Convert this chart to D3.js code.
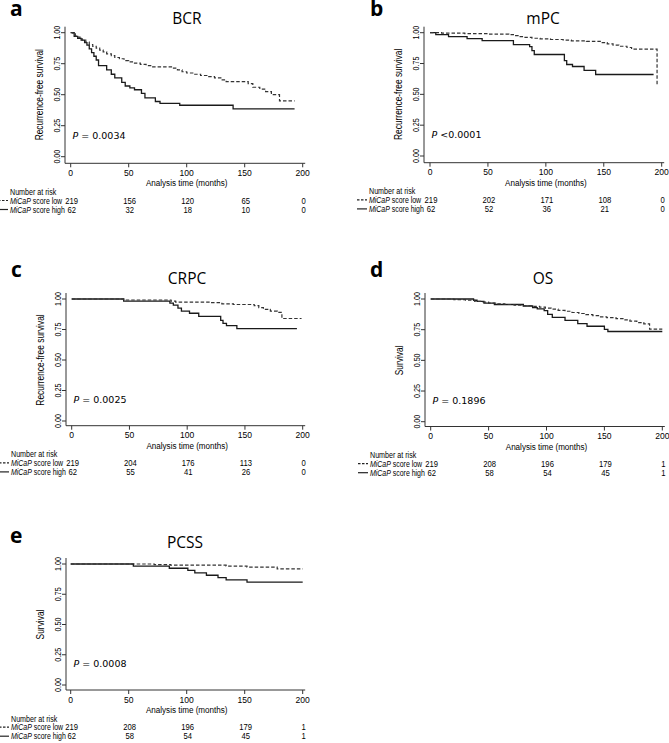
<!DOCTYPE html>
<html><head><meta charset="utf-8">
<script src="https://cdn.jsdelivr.net/npm/d3@7"></script>
<style>html,body{margin:0;padding:0;background:#fff;}svg{display:block;}</style>
</head><body>
<script>
// ---------- DATA ----------
const timeTicks = [0, 50, 100, 150, 200];
const survTicks = [0, 0.25, 0.5, 0.75, 1];
const survTickLabels = ["0.00", "0.25", "0.50", "0.75", "1.00"];
const riskTimes = [0, 50, 100, 150, 200];
const groupLabels = ["score low", "score high"];

// BCR
const bcrLow = [[0,1],[2,0.99],[4,0.975],[6,0.965],[8,0.95],[10,0.94],[13,0.925],[16,0.905],[19,0.89],[22,0.875],[25,0.86],[28,0.845],[31,0.83],[35,0.815],[38,0.80],[42,0.79],[46,0.775],[50,0.765],[55,0.755],[60,0.745],[65,0.735],[70,0.725],[88,0.715],[92,0.70],[96,0.685],[100,0.675],[106,0.665],[112,0.655],[118,0.645],[124,0.635],[130,0.62],[134,0.605],[153,0.59],[157,0.56],[163,0.545],[168,0.525],[173,0.50],[180,0.45],[193,0.45]];
const bcrHigh = [[0,1],[3,0.97],[6,0.955],[9,0.94],[12,0.92],[14,0.90],[16,0.87],[18,0.84],[20,0.81],[22,0.78],[24,0.735],[31,0.70],[35,0.665],[38,0.635],[44,0.60],[47,0.57],[51,0.555],[55,0.54],[61,0.51],[64,0.475],[73,0.445],[77,0.43],[94,0.415],[140,0.385],[193,0.385]];
const bcrRiskLow = [219, 156, 120, 65, 0];
const bcrRiskHigh = [62, 32, 18, 10, 0];

// mPC
const mpcLow = [[0,1],[10,0.996],[30,0.992],[50,0.988],[68,0.984],[72,0.976],[76,0.968],[82,0.962],[88,0.955],[95,0.95],[104,0.945],[115,0.94],[122,0.934],[135,0.93],[148,0.92],[153,0.91],[158,0.90],[163,0.89],[170,0.88],[174,0.866],[196,0.576],[196,0.576]];
const mpcHigh = [[0,1],[5,0.984],[16,0.968],[32,0.952],[45,0.935],[72,0.903],[86,0.887],[88,0.855],[90,0.823],[116,0.774],[118,0.742],[123,0.726],[133,0.694],[143,0.661],[193,0.661]];
const mpcRiskLow = [219, 202, 171, 108, 0];
const mpcRiskHigh = [62, 52, 36, 21, 0];

// CRPC
const crpcLow = [[0,1],[45,0.992],[86,0.982],[90,0.975],[120,0.97],[130,0.96],[140,0.955],[158,0.945],[162,0.93],[166,0.915],[172,0.90],[178,0.89],[182,0.84],[199,0.84]];
const crpcHigh = [[0,1],[45,0.983],[85,0.966],[88,0.95],[92,0.925],[95,0.90],[102,0.883],[110,0.857],[129,0.825],[131,0.80],[134,0.782],[143,0.757],[195,0.757]];
const crpcRiskLow = [219, 204, 176, 113, 0];
const crpcRiskHigh = [62, 55, 41, 26, 0];

// OS
const osLow = [[0,1],[20,0.995],[30,0.99],[38,0.98],[44,0.975],[50,0.967],[56,0.96],[64,0.955],[72,0.95],[80,0.945],[88,0.94],[94,0.933],[99,0.925],[104,0.917],[110,0.908],[116,0.90],[122,0.89],[128,0.882],[134,0.872],[140,0.865],[146,0.855],[152,0.848],[160,0.84],[167,0.83],[172,0.82],[178,0.808],[184,0.797],[189,0.755],[200,0.755]];
const osHigh = [[0,1],[37,0.99],[40,0.98],[46,0.967],[55,0.955],[80,0.943],[88,0.93],[92,0.92],[98,0.905],[101,0.875],[105,0.85],[116,0.826],[127,0.80],[135,0.778],[150,0.752],[153,0.735],[200,0.735]];
const osRiskLow = [219, 208, 196, 179, 1];
const osRiskHigh = [62, 58, 54, 45, 1];

// PCSS
const pcssLow = [[0,1],[72,0.995],[86,0.99],[134,0.983],[152,0.975],[178,0.96],[200,0.96]];
const pcssHigh = [[0,1],[54,0.983],[85,0.965],[101,0.948],[107,0.927],[117,0.907],[127,0.888],[134,0.869],[152,0.851],[200,0.851]];
const pcssRiskLow = [219, 208, 196, 179, 1];
const pcssRiskHigh = [62, 58, 54, 45, 1];

// ---------- LAYOUT ----------
const panels = [
  {letter:"a", title:"BCR", ytitle:"Recurrence-free survival", p:"= 0.0034", low:bcrLow, high:bcrHigh, rl:bcrRiskLow, rh:bcrRiskHigh,
   x0:70.7, x1:302.7, yTop:32.7, yBot:156.7, ax:65, ay:163.3, lp:[10,16], tp:[187,24]},
  {letter:"b", title:"mPC", ytitle:"Recurrence-free survival", p:"<0.0001", low:mpcLow, high:mpcHigh, rl:mpcRiskLow, rh:mpcRiskHigh,
   x0:430, x1:661.7, yTop:32.7, yBot:156, ax:424, ay:162.7, lp:[370,16], tp:[543,24]},
  {letter:"c", title:"CRPC", ytitle:"Recurrence-free survival", p:"= 0.0025", low:crpcLow, high:crpcHigh, rl:crpcRiskLow, rh:crpcRiskHigh,
   x0:71.7, x1:302.7, yTop:299, yBot:421, ax:66, ay:425.7, lp:[11,277], tp:[187,284]},
  {letter:"d", title:"OS", ytitle:"Survival", p:"= 0.1896", low:osLow, high:osHigh, rl:osRiskLow, rh:osRiskHigh,
   x0:430.7, x1:662.3, yTop:299, yBot:421.7, ax:425, ay:426.5, lp:[370,277], tp:[543,284]},
  {letter:"e", title:"PCSS", ytitle:"Survival", p:"= 0.0008", low:pcssLow, high:pcssHigh, rl:pcssRiskLow, rh:pcssRiskHigh,
   x0:70.7, x1:302.7, yTop:564, yBot:685, ax:66, ay:690, lp:[10,543], tp:[185,548]}
];

const W = 669, H = 743;
const svg = d3.select("body").append("svg").attr("width", W).attr("height", H);
svg.append("rect").attr("width", W).attr("height", H).attr("fill", "#fff");

const SANS = "'Liberation Sans', Arial, sans-serif";
function txt(g, x, y, s, o = {}) {
  const t = g.append("text")
    .attr("transform", `translate(${x},${y})` + (o.rot ? ` rotate(${o.rot})` : "") + ` scale(${o.sx || 1},1)`)
    .attr("font-family", o.ff || SANS)
    .attr("font-size", o.fs || 9)
    .attr("font-weight", o.fw || "normal")
    .attr("text-anchor", o.anchor || "start")
    .attr("fill", o.fill || "#000");
  if (s !== null) t.text(s);
  return t;
}

panels.forEach(P => {
  const g = svg.append("g");
  const x = d3.scaleLinear().domain([0, 200]).range([P.x0, P.x1]);
  const y = d3.scaleLinear().domain([0, 1]).range([P.yBot, P.yTop]);

  // panel letter & title
  txt(g, P.lp[0], P.lp[1], P.letter, {ff:"'Open Sans', 'Noto Sans', sans-serif", fs:21, fw:"bold"});
  txt(g, P.tp[0], P.tp[1], P.title, {ff:"'Open Sans', 'Noto Sans', sans-serif", fs:15.5, anchor:"middle"});

  // axes lines
  g.append("line").attr("x1", P.ax).attr("x2", P.ax).attr("y1", P.yTop - 6).attr("y2", P.ay)
    .attr("stroke", "#333").attr("stroke-width", 1);
  g.append("line").attr("x1", P.ax).attr("x2", P.x1 + 2.5).attr("y1", P.ay).attr("y2", P.ay)
    .attr("stroke", "#333").attr("stroke-width", 1);

  // y ticks
  survTicks.forEach((v, i) => {
    g.append("line").attr("x1", P.ax - 4).attr("x2", P.ax).attr("y1", y(v)).attr("y2", y(v))
      .attr("stroke", "#333").attr("stroke-width", 1);
    txt(g, P.ax - 5.5, y(v), survTickLabels[i], {rot:-90, sx:0.75, fs:9.5, anchor:"middle"});
  });
  // x ticks
  timeTicks.forEach(v => {
    g.append("line").attr("x1", x(v)).attr("x2", x(v)).attr("y1", P.ay).attr("y2", P.ay + 4)
      .attr("stroke", "#333").attr("stroke-width", 1);
    txt(g, x(v), P.ay + 12.7, String(v), {sx:0.9, fs:9.5, anchor:"middle"});
  });
  // axis titles
  txt(g, (P.x0 + P.x1) / 2, P.ay + 23, "Analysis time (months)", {sx:0.85, fs:9.5, anchor:"middle"});
  txt(g, P.ax - 22, (P.yTop + P.yBot) / 2, P.ytitle, {rot:-90, sx:0.84, fs:10, anchor:"middle"});

  // curves
  const line = d3.line().x(d => x(d[0])).y(d => y(d[1])).curve(d3.curveStepAfter);
  g.append("path").datum(P.high).attr("d", line).attr("fill", "none")
    .attr("stroke", "#1a1a1a").attr("stroke-width", 1.3);
  g.append("path").datum(P.low).attr("d", line).attr("fill", "none")
    .attr("stroke", "#333").attr("stroke-width", 1.2).attr("stroke-dasharray", "3.5,2");

  // P value
  const pt = txt(g, P.ax + 7.5, P.yBot - 18, null, {ff:"'DejaVu Sans', sans-serif", fs:9.5});
  pt.append("tspan").attr("font-style", "italic").text("P");
  pt.append("tspan").text(" " + P.p);

  // risk table
  txt(g, P.ax - 55, P.ay + 31.7, "Number at risk", {sx:0.82, fs:8.7});
  const rows = [
    {vals:P.rl, lab:groupLabels[0], dash:"2.5,1.5", dy:40.2},
    {vals:P.rh, lab:groupLabels[1], dash:null, dy:49.2}
  ];
  rows.forEach(r => {
    const ly = P.ay + r.dy - 3;
    const ln = g.append("line").attr("x1", P.ax - 67).attr("x2", P.ax - 57).attr("y1", ly).attr("y2", ly)
      .attr("stroke", "#222").attr("stroke-width", 1.2);
    if (r.dash) ln.attr("stroke-dasharray", r.dash);
    const t = txt(g, P.ax - 55, P.ay + r.dy, null, {sx:0.8, fs:8.7});
    t.append("tspan").attr("font-style", "italic").text("MiCaP");
    t.append("tspan").text(" " + r.lab);
    riskTimes.forEach((tm, i) => {
      txt(g, x(tm) + 1, P.ay + r.dy, String(r.vals[i]), {sx:0.88, fs:8.7, anchor:"middle"});
    });
  });
});
</script>
</body></html>
